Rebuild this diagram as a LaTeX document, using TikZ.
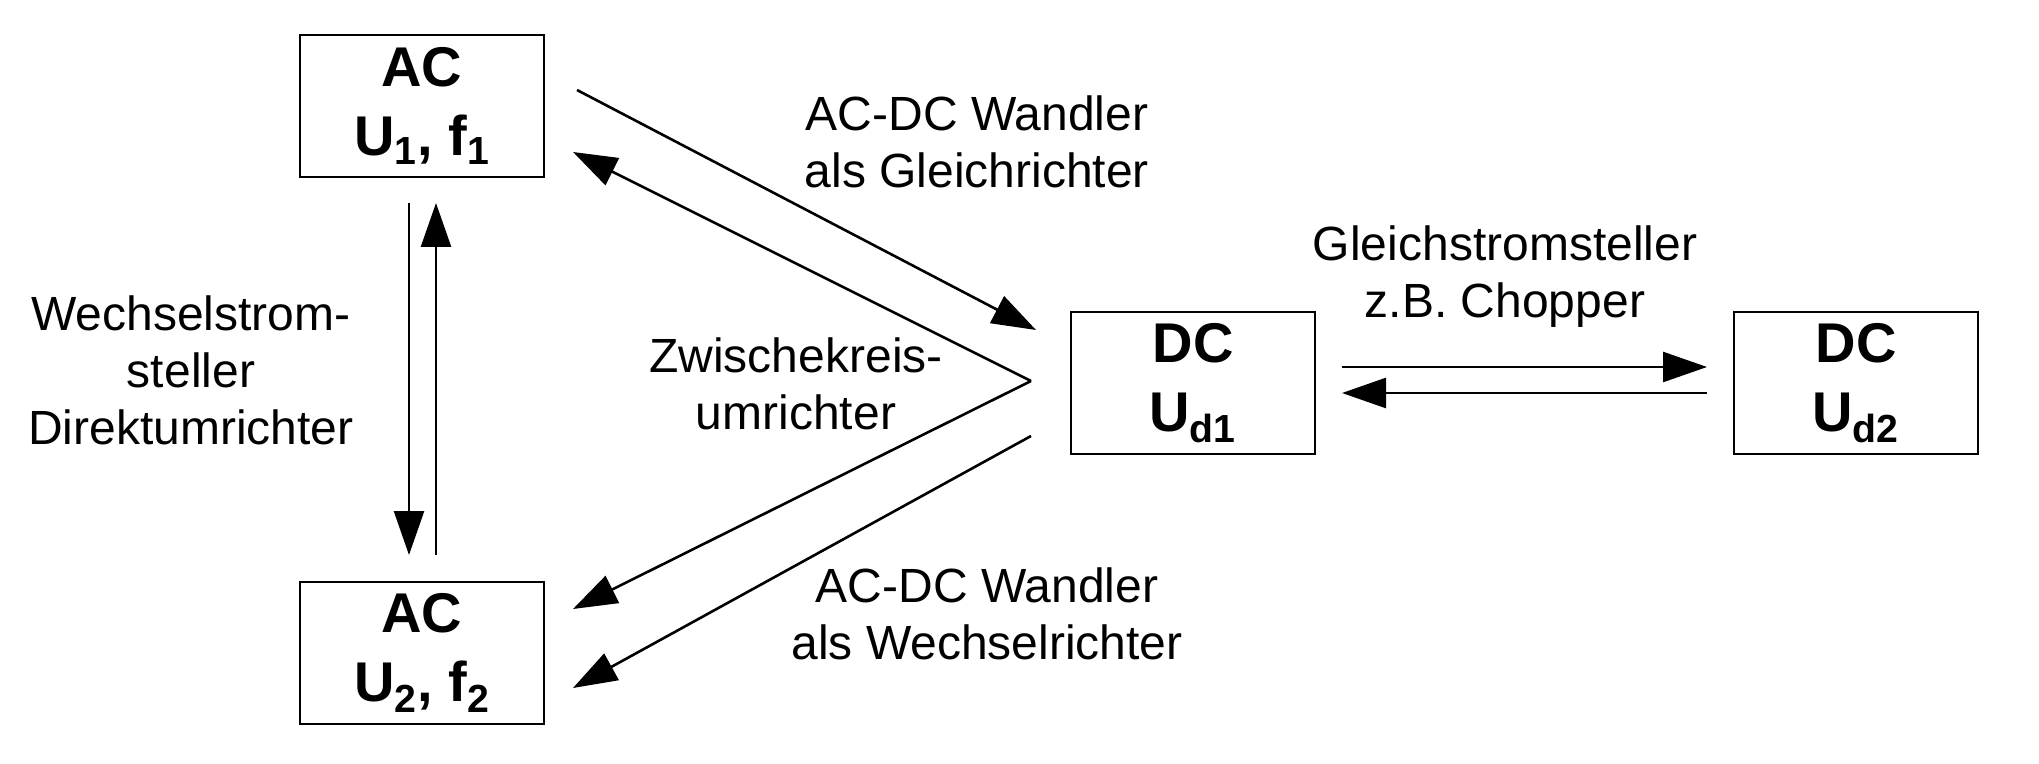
\documentclass[tikz,border=0pt]{standalone}
\usepackage{fontspec}
\setmainfont{Liberation Sans}
\usetikzlibrary{arrows.meta}
\begin{document}
\begin{tikzpicture}[x=0.5pt,y=-0.5pt,
  box/.style={draw,line width=1.3pt,minimum width=122pt,minimum height=71pt,inner sep=0pt,
    align=center,font=\fontsize{28}{34.5}\selectfont\bfseries},
  lbl/.style={align=center,font=\fontsize{24}{28.5}\selectfont,inner sep=0pt},
  conn/.style={line width=1.3pt,-{Triangle[length=22pt,width=15pt]}}]
\useasboundingbox (0,0) rectangle (2039,764);
\node[box] (ac1) at (422,106) {AC\\U\textsubscript{1}, f\textsubscript{1}};
\node[box] (ac2) at (422,653) {AC\\U\textsubscript{2}, f\textsubscript{2}};
\node[box] (dc1) at (1193,383) {DC\\U\textsubscript{d1}};
\node[box] (dc2) at (1856,383) {DC\\U\textsubscript{d2}};
% endpoints
\coordinate (v1t) at (409,203); \coordinate (v1b) at (409,555);
\coordinate (v2t) at (436,203); \coordinate (v2b) at (436,555);
\coordinate (g1s) at (577,90);  \coordinate (g1e) at (1036,330);
\coordinate (apex) at (1031,381);
\coordinate (z1e) at (573,152); \coordinate (z2e) at (573,609);
\coordinate (w1s) at (1031,436); \coordinate (w1e) at (573,688);
\coordinate (h1s) at (1342,367); \coordinate (h1e) at (1707,367);
\coordinate (h2s) at (1707,393); \coordinate (h2e) at (1342,393);
\draw[conn] (v1t) -- (v1b);
\draw[conn] (v2b) -- (v2t);
\draw[conn] (g1s) -- (g1e);
\draw[conn] (apex) -- (z1e);
\draw[conn] (apex) -- (z2e);
\draw[conn] (w1s) -- (w1e);
\draw[conn] (h1s) -- (h1e);
\draw[conn] (h2s) -- (h2e);
\node[lbl] (l1) at (977,142) {AC-DC Wandler\\als Gleichrichter};
\node[lbl] (l2) at (1505,277) {Gleichstromsteller\\z.B. Chopper};
\node[lbl] (l3) at (191,370) {Wechselstrom-\\steller\\Direktumrichter};
\node[lbl] (l4) at (796,384) {Zwischekreis-\\umrichter};
\node[lbl] (l5) at (987,614) {AC-DC Wandler\\als Wechselrichter};
\end{tikzpicture}
\end{document}
